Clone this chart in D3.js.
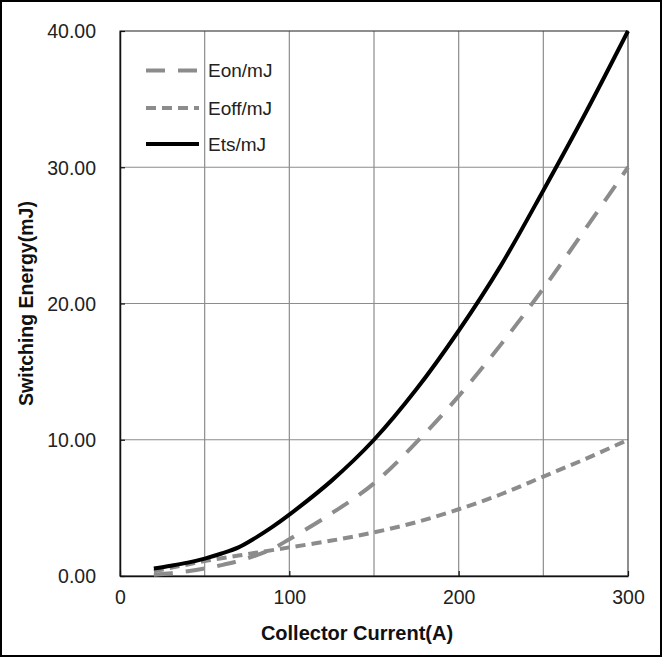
<!DOCTYPE html>
<html>
<head>
<meta charset="utf-8">
<script src="https://cdn.jsdelivr.net/npm/d3@7/dist/d3.min.js"></script>
<style>
  html, body { margin: 0; padding: 0; background: #fff; }
  svg { display: block; font-family: "Liberation Sans", Arial, sans-serif; }
</style>
</head>
<body>
<script>
// Switching energy versus collector current
const current = [20, 30, 40, 50, 60, 70, 80, 90, 100, 125, 150, 175, 200, 225, 250, 275, 300];
const eon  = [0.10, 0.20, 0.35, 0.55, 0.80, 1.10, 1.50, 2.00, 2.70, 4.60, 6.80, 9.80, 13.2, 17.0, 21.1, 25.5, 30.0];
const eoff = [0.35, 0.60, 0.85, 1.10, 1.30, 1.50, 1.70, 1.90, 2.10, 2.60, 3.20, 3.95, 4.90, 6.00, 7.30, 8.60, 10.0];
const ets  = [0.55, 0.75, 0.98, 1.28, 1.65, 2.10, 2.80, 3.60, 4.50, 7.00, 10.0, 13.7, 18.0, 22.8, 28.3, 34.0, 40.0];

const seriesNames = ["Eon/mJ", "Eoff/mJ", "Ets/mJ"];
const xTicks = [0, 100, 200, 300];
const xGrid = [50, 100, 150, 200, 250];
const yTicks = [0, 10, 20, 30, 40];

const W = 664, H = 658;
const plot = { left: 120, top: 31, right: 628, bottom: 576 };

const svg = d3.select("body").append("svg")
  .attr("width", W).attr("height", H);

// outer frame
svg.append("rect")
  .attr("x", 1).attr("y", 1).attr("width", 660).attr("height", 655)
  .attr("fill", "none").attr("stroke", "#000").attr("stroke-width", 2);

const x = d3.scaleLinear().domain([0, 300]).range([plot.left, plot.right]);
const y = d3.scaleLinear().domain([0, 40]).range([plot.bottom, plot.top]);

// grid
const grid = svg.append("g").attr("stroke", "#8c8c8c").attr("stroke-width", 1.2);
grid.selectAll("line.v").data(xGrid).join("line")
  .attr("x1", d => x(d)).attr("x2", d => x(d))
  .attr("y1", plot.top).attr("y2", plot.bottom);
grid.selectAll("line.h").data(yTicks.slice(1, -1)).join("line")
  .attr("x1", plot.left).attr("x2", plot.right)
  .attr("y1", d => y(d)).attr("y2", d => y(d));

// plot frame
svg.append("rect")
  .attr("x", plot.left).attr("y", plot.top)
  .attr("width", plot.right - plot.left).attr("height", plot.bottom - plot.top)
  .attr("fill", "none").attr("stroke", "#444").attr("stroke-width", 1.2);

// axes with inward ticks
const xAxis = svg.append("g")
  .attr("transform", `translate(0,${plot.bottom})`)
  .call(d3.axisBottom(x).tickValues(xTicks).tickSize(-5).tickSizeOuter(0).tickPadding(14));
const yAxis = svg.append("g")
  .attr("transform", `translate(${plot.left},0)`)
  .call(d3.axisLeft(y).tickValues(yTicks).tickSize(-5).tickSizeOuter(0).tickPadding(24)
    .tickFormat(d3.format(".2f")));

[xAxis, yAxis].forEach(a => {
  a.select(".domain").attr("stroke", "#111").attr("stroke-width", 1.5);
  a.selectAll(".tick line").attr("stroke", "#111").attr("stroke-width", 1.2);
  a.selectAll(".tick text")
    .attr("fill", "#222").style("font-size", "19.5px")
    .style("font-family", "'Liberation Sans', Arial, sans-serif");
});
yAxis.selectAll(".tick text").attr("dy", "0.35em");

// axis titles
svg.append("text")
  .attr("x", 357).attr("y", 640)
  .attr("text-anchor", "middle")
  .style("font-size", "20px").style("font-weight", "bold").attr("fill", "#111")
  .text("Collector Current(A)");
svg.append("text")
  .attr("transform", `translate(33,${(plot.top + plot.bottom) / 2}) rotate(-90)`)
  .attr("text-anchor", "middle")
  .style("font-size", "19.5px").style("font-weight", "bold").attr("fill", "#111")
  .text("Switching Energy(mJ)");

// series
const styles = [
  { values: eon,  color: "#8c8c8c", dash: "19,13", width: 4 },
  { values: eoff, color: "#8c8c8c", dash: "10,6",  width: 4 },
  { values: ets,  color: "#000",    dash: null,    width: 4 }
];

const line = d3.line()
  .x(d => x(d[0])).y(d => y(d[1]))
  .curve(d3.curveCatmullRom.alpha(0.5));

styles.forEach(s => {
  svg.append("path")
    .datum(current.map((c, i) => [c, s.values[i]]))
    .attr("fill", "none")
    .attr("stroke", s.color)
    .attr("stroke-width", s.width)
    .attr("stroke-dasharray", s.dash)
    .attr("d", line);
});

// legend
const legend = svg.append("g");
const legendY = [70.5, 108, 144];
seriesNames.forEach((name, i) => {
  const s = styles[i];
  legend.append("line")
    .attr("x1", 146).attr("x2", 199)
    .attr("y1", legendY[i]).attr("y2", legendY[i])
    .attr("stroke", s.color).attr("stroke-width", s.width)
    .attr("stroke-dasharray", s.dash);
  legend.append("text")
    .attr("x", 208).attr("y", legendY[i]).attr("dy", "0.36em")
    .style("font-size", "19px").attr("fill", "#222")
    .text(name);
});
</script>
</body>
</html>
